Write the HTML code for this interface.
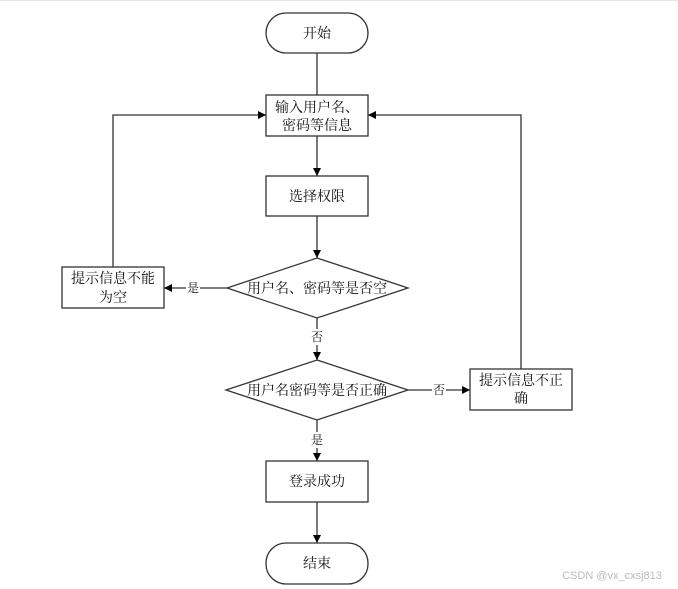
<!DOCTYPE html>
<html><head><meta charset="utf-8"><style>
html,body{margin:0;padding:0;background:#fff;width:678px;height:589px;overflow:hidden}
text{font-family:"Liberation Serif","Noto Serif CJK SC",serif;font-size:14px;fill:#111}
</style></head><body>
<svg width="678" height="589" viewBox="0 0 678 589" xmlns="http://www.w3.org/2000/svg">
<defs><marker id="a" viewBox="0 0 10 10" refX="10" refY="5" markerWidth="8" markerHeight="8" orient="auto" markerUnits="userSpaceOnUse"><path d="M0,0L10,5L0,10z" fill="#000"/></marker></defs>
<line x1="0" y1="0.5" x2="678" y2="0.5" stroke="#e6e6e6"/>
<g stroke="#333" stroke-width="1.3" fill="none">
<rect x="266" y="13" width="102" height="40" rx="20"/>
<line x1="317" y1="53" x2="317" y2="95"/>
<rect x="266" y="95" width="102" height="41" fill="#fff"/>
<line x1="317" y1="136" x2="317" y2="176" marker-end="url(#a)"/>
<rect x="266" y="176" width="102" height="40"/>
<line x1="317" y1="216" x2="317" y2="258" marker-end="url(#a)"/>
<polygon points="317,258 408,288 317,318 227,288"/>
<line x1="227" y1="288" x2="164" y2="288" marker-end="url(#a)"/>
<rect x="62" y="267" width="102" height="41"/>
<polyline points="113,267 113,115 266,115" marker-end="url(#a)"/>
<line x1="317" y1="318" x2="317" y2="360" marker-end="url(#a)"/>
<polygon points="317,360 408,390 317,420 226,390"/>
<line x1="408" y1="390" x2="470" y2="390" marker-end="url(#a)"/>
<rect x="470" y="369" width="102" height="41"/>
<polyline points="521,369 521,115 368,115" marker-end="url(#a)"/>
<line x1="317" y1="420" x2="317" y2="461" marker-end="url(#a)"/>
<rect x="266" y="461" width="102" height="41"/>
<line x1="317" y1="502" x2="317" y2="543" marker-end="url(#a)"/>
<rect x="266" y="543" width="102" height="41" rx="20"/>
</g>
<g fill="#fff">
<rect x="186" y="280" width="14" height="16"/>
<rect x="310" y="329" width="14" height="16"/>
<rect x="432" y="382" width="14" height="16"/>
<rect x="310" y="432" width="14" height="16"/>
</g>
<g text-anchor="middle">
<text x="317" y="38">开始</text>
<text x="317" y="112">输入用户名、</text>
<text x="317" y="130">密码等信息</text>
<text x="317" y="201">选择权限</text>
<text x="317" y="293">用户名、密码等是否空</text>
<text x="113" y="283">提示信息不能</text>
<text x="113" y="302">为空</text>
<text x="193" y="292" style="font-size:12px">是</text>
<text x="317" y="341" style="font-size:12px">否</text>
<text x="317" y="395">用户名密码等是否正确</text>
<text x="439" y="394" style="font-size:12px">否</text>
<text x="521" y="385">提示信息不正</text>
<text x="521" y="403">确</text>
<text x="317" y="444" style="font-size:12px">是</text>
<text x="317" y="486">登录成功</text>
<text x="317" y="568">结束</text>
</g>
<text x="612" y="579" text-anchor="middle" style="font-family:'Liberation Sans',sans-serif;font-size:11px;fill:#bbb">CSDN @vx_cxsj813</text>
</svg>
</body></html>
